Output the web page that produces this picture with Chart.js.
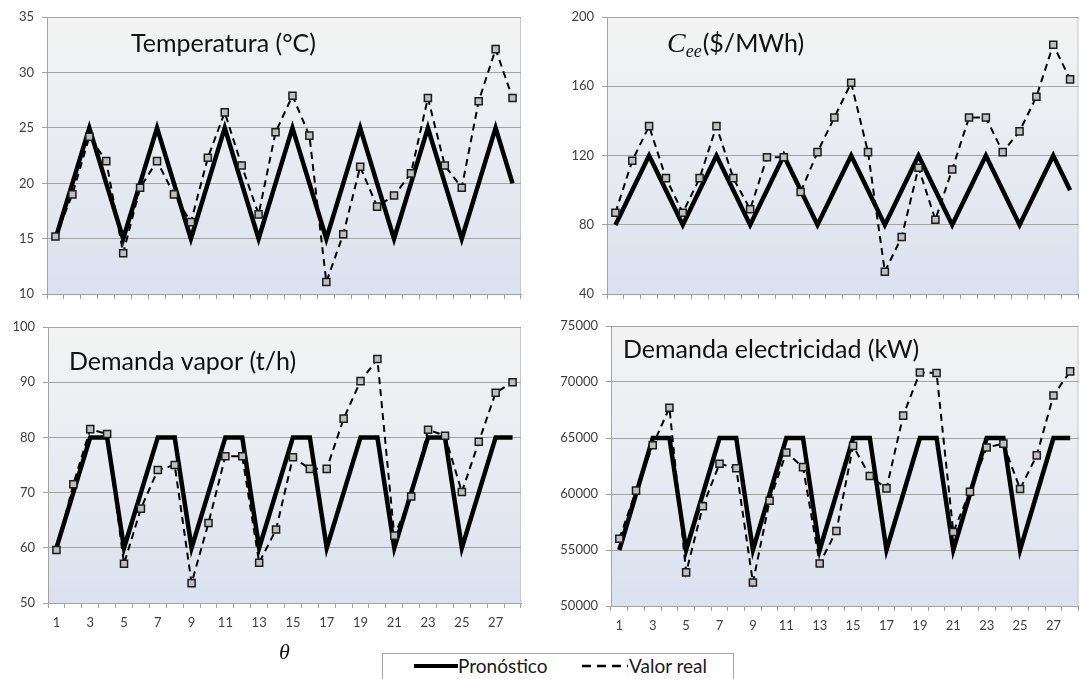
<!DOCTYPE html>
<html>
<head>
<meta charset="utf-8">
<script src="https://cdn.jsdelivr.net/npm/chart.js@4/dist/chart.umd.min.js"></script>
<style>
  body { margin: 0; background: #fff; }
  #wrap { position: relative; width: 1085px; height: 679px; overflow: hidden; background: #fff; }
  canvas { position: absolute; }
  #legend { position: absolute; left: 382px; top: 653px; width: 350px; height: 40px;
            border: 1px solid #a6a6a6; background: #fff; font-family: Lato, sans-serif; }
  #legend .txt { position: absolute; top: 0; line-height: 24px; font-size: 19px; color: #1a1a1a; }
</style>
</head>
<body>
<div id="wrap">
  <canvas id="c1" width="540" height="310" style="left:0;top:0"></canvas>
  <canvas id="c2" width="545" height="310" style="left:540px;top:0"></canvas>
  <canvas id="c3" width="540" height="369" style="left:0;top:310px"></canvas>
  <canvas id="c4" width="545" height="369" style="left:540px;top:310px"></canvas>
  <div id="legend">
    <div style="position:absolute;left:31px;top:10px;width:44px;height:4px;background:#000"></div>
    <div class="txt" style="left:75px">Pronóstico</div>
    <svg style="position:absolute;left:199px;top:10px" width="46" height="4">
      <line x1="0" y1="2" x2="46" y2="2" stroke="#000" stroke-width="2.4" stroke-dasharray="9,6"/>
    </svg>
    <div class="txt" style="left:246px">Valor real</div>
  </div>
</div>
<script>
// periods (theta)
const theta = ['1','2','3','4','5','6','7','8','9','10','11','12','13','14',
               '15','16','17','18','19','20','21','22','23','24','25','26','27','28'];

// Temperatura (°C)
const tempForecast = [15,20,25,20,15,20,25,20,15,20,25,20,15,20,25,20,15,20,25,20,15,20,25,20,15,20,25,20];
const tempReal = [15.2,19.0,24.2,22.0,13.7,19.6,22.0,19.0,16.5,22.3,26.4,21.6,17.2,24.6,
                  27.9,24.3,11.1,15.4,21.5,17.9,18.9,20.9,27.7,21.6,19.6,27.4,32.1,27.7];

// Cee ($/MWh)
const ceeForecast = [80,100,120,100,80,100,120,100,80,100,120,100,80,100,120,100,80,100,120,100,80,100,120,100,80,100,120,100];
const ceeReal = [87,117,137,107,87,107,137,107,89,119,119,99,122,142,
                 162,122,53,73,113,83,112,142,142,122,134,154,184,164];

// Demanda vapor (t/h)
const vaporForecast = [60,70,80,80,60,70,80,80,60,70,80,80,60,70,80,80,60,70,80,80,60,70,80,80,60,70,80,80];
const vaporReal = [59.6,71.5,81.5,80.6,57.1,67.1,74.1,75.0,53.6,64.5,76.6,76.6,57.3,63.3,
                   76.4,74.3,74.3,83.4,90.2,94.2,62.2,69.3,81.4,80.3,70.1,79.2,88.1,90.0];

// Demanda electricidad (kW)
const elecForecast = [55000,60000,65000,65000,55000,60000,65000,65000,55000,60000,65000,65000,55000,60000,
                      65000,65000,55000,60000,65000,65000,55000,60000,65000,65000,55000,60000,65000,65000];
const elecReal = [56000,60300,64350,67700,53000,58900,62700,62300,52100,59400,63700,62400,53800,56700,
                  64300,61600,60500,67000,70850,70800,56600,60200,64150,64500,60450,63450,68800,70950];

const gridCol = '#a3a3a3';
const labelCol = '#404040';
const sans = 'Lato, "Open Sans", sans-serif';
const serif = '"Liberation Serif", serif';

// plot area: gradient fill + light frame
const plotBg = {
  id: 'plotBg',
  beforeDraw(chart) {
    const a = chart.chartArea, ctx = chart.ctx;
    const g = ctx.createLinearGradient(0, a.top, 0, a.bottom);
    g.addColorStop(0, '#f3f3f3');
    g.addColorStop(0.35, '#eceef2');
    g.addColorStop(0.7, '#e3e7f0');
    g.addColorStop(1, '#dae1ef');
    ctx.save();
    ctx.fillStyle = g;
    ctx.fillRect(a.left, a.top, a.right - a.left, a.bottom - a.top);
    ctx.strokeStyle = '#c8c8c8';
    ctx.lineWidth = 1;
    ctx.strokeRect(a.left + 0.5, a.top + 0.5, a.right - a.left - 1, a.bottom - a.top);
    ctx.restore();
  }
};

// title written inside the plot area (kept in a closure, not in chart options)
function titlePlugin(t) {
  return {
    id: 'panelTitle',
    beforeDatasetsDraw(chart) {
      const a = chart.chartArea, ctx = chart.ctx;
      let x = a.left + t.dx;
      const y = a.top + t.dy;
      ctx.save();
      ctx.fillStyle = '#111';
      ctx.textAlign = 'left';
      ctx.textBaseline = 'alphabetic';
      t.parts.forEach(p => {
        ctx.font = p[1];
        ctx.fillText(p[0], x, y + (p[2] || 0));
        x += ctx.measureText(p[0]).width + (p[3] || 0);
      });
      ctx.restore();
    }
  };
}

function makePanel(id, cfg) {
  new Chart(document.getElementById(id), {
    type: 'line',
    data: {
      labels: theta,
      datasets: [{
        label: 'Valor real',
        data: cfg.real,
        borderColor: '#000',
        borderWidth: 2,
        borderDash: [7, 5],
        pointStyle: 'rect',
        pointRadius: 5,
        pointBackgroundColor: '#bfbfbf',
        pointBorderColor: '#1a1a1a',
        pointBorderWidth: 1.5,
        tension: 0,
        order: 0
      }, {
        label: 'Pronóstico',
        data: cfg.forecast,
        borderColor: '#000',
        borderWidth: 4.5,
        pointRadius: 0,
        tension: 0,
        order: 1
      }]
    },
    options: {
      responsive: false,
      devicePixelRatio: 1,
      animation: false,
      layout: { padding: { top: cfg.top, right: cfg.right, left: 0, bottom: 0 } },
      plugins: {
        legend: { display: false },
        tooltip: { enabled: false }
      },
      scales: {
        x: {
          type: 'category',
          offset: true,
          grid: { drawOnChartArea: false, drawTicks: true, tickLength: 5, offset: true, color: gridCol },
          border: { color: gridCol },
          ticks: {
            display: cfg.showX,
            autoSkip: false,
            maxRotation: 0,
            padding: 7,
            color: labelCol,
            font: { family: sans, size: 13 },
            callback: function (v, i) { return i % 2 === 0 ? this.getLabelForValue(v) : ''; }
          },
          title: cfg.xTitle || { display: false },
          afterFit: s => { s.height = cfg.xHeight; }
        },
        y: {
          min: cfg.min,
          max: cfg.max,
          grid: { color: gridCol, tickLength: 5 },
          border: { color: gridCol },
          ticks: {
            stepSize: cfg.step,
            padding: 8,
            color: labelCol,
            font: { family: sans, size: 13 },
            callback: v => String(v)
          },
          afterFit: s => { s.width = cfg.yWidth; }
        }
      }
    },
    plugins: [plotBg, titlePlugin(cfg.title)]
  });
}

makePanel('c1', {
  real: tempReal, forecast: tempForecast, min: 10, max: 35, step: 5,
  top: 17, right: 19, yWidth: 47, xHeight: 12, showX: false,
  title: { dx: 84, dy: 35, parts: [['Temperatura (°C)', '25px ' + sans]] }
});

makePanel('c2', {
  real: ceeReal, forecast: ceeForecast, min: 40, max: 200, step: 40,
  top: 17, right: 5, yWidth: 67, xHeight: 12, showX: false,
  title: { dx: 60, dy: 35, parts: [
    ['C', 'italic 28px ' + serif, 0, 0],
    ['ee', 'italic 18px ' + serif, 5, 1],
    ['($/MWh)', '25px ' + sans, 0, 0]
  ] }
});

makePanel('c3', {
  real: vaporReal, forecast: vaporForecast, min: 50, max: 100, step: 10,
  top: 17, right: 19, yWidth: 48, xHeight: 76, showX: true,
  xTitle: { display: true, text: 'θ', color: '#111',
            font: { family: serif, style: 'italic', size: 22 },
            padding: { top: 0, bottom: 13 } },
  title: { dx: 21, dy: 43, parts: [['Demanda vapor (t/h)', '25px ' + sans]] }
});

makePanel('c4', {
  real: elecReal, forecast: elecForecast, min: 50000, max: 75000, step: 5000,
  top: 16, right: 5, yWidth: 71, xHeight: 73, showX: true,
  title: { dx: 12, dy: 32, parts: [['Demanda electricidad (kW)', '25px ' + sans]] }
});
</script>
</body>
</html>
